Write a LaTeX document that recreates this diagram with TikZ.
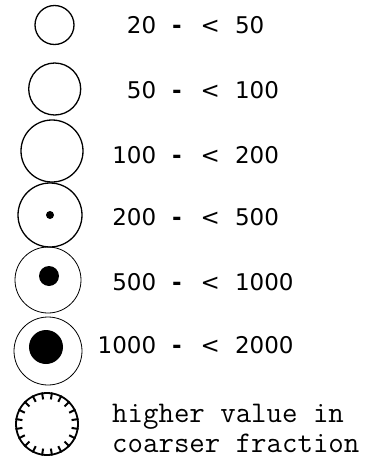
\documentclass[tikz,border=0pt]{standalone}
\usepackage{fontspec}
\setsansfont{DejaVu Sans}
\usetikzlibrary{calc}
\tikzset{
  ring/.style={circle,draw,line width=1.3pt,inner sep=0pt,minimum size=#1},
  thinring/.style={circle,draw,line width=0.8pt,inner sep=0pt,minimum size=#1},
  core/.style={circle,fill,inner sep=0pt,minimum size=#1},
  tick/.style={line width=2pt},
  lbl/.style={anchor=west,inner sep=0pt,font=\fontsize{23}{23}\sffamily},
  note/.style={anchor=west,inner sep=0pt,align=left,font=\fontsize{30}{30}\ttfamily}
}
\newcommand{\rng}[2]{\makebox[44pt][r]{#1}\hspace{16pt}\textbf{-}\hspace{19pt}<\hspace{15pt}#2}

\begin{document}
\begin{tikzpicture}[x=1pt,y=-1pt]
\useasboundingbox (0,0) rectangle (386,461);

% size classes
\node[ring=39pt] (c1) at (54.5,25) {};
\node[ring=52pt] (c2) at (54.7,89) {};
\node[ring=62pt] (c3) at (52,151) {};
\node[ring=64pt] (c4) at (50,215) {};
\node[thinring=66pt] (c5) at (48,280) {};
\node[thinring=68pt] (c6) at (48,351) {};
\node[ring=62pt,line width=1.8pt] (c7) at (47,424) {};

% filled cores
\node[core=8pt] (d4) at (50,215) {};
\node[core=20pt] (d5) at (49,276) {};
\node[core=34pt] (d6) at (46,347) {};

% ticks for coarser fraction
\foreach \a in {9,27,...,351}
  \draw[tick] (c7.\a) -- ($(c7.\a)!7pt!(c7.center)$);

% labels
\node[lbl] (t1) at (112,25) {\rng{20}{50}};
\node[lbl] (t2) at (112,90) {\rng{50}{100}};
\node[lbl] (t3) at (112,155) {\rng{100}{200}};
\node[lbl] (t4) at (112,217) {\rng{200}{500}};
\node[lbl] (t5) at (112,282) {\rng{500}{1000}};
\node[lbl] (t6) at (112,345) {\rng{1000}{2000}};
\node[note] (t7) at (112,428) {higher value in\\coarser fraction};
\end{tikzpicture}
\end{document}
